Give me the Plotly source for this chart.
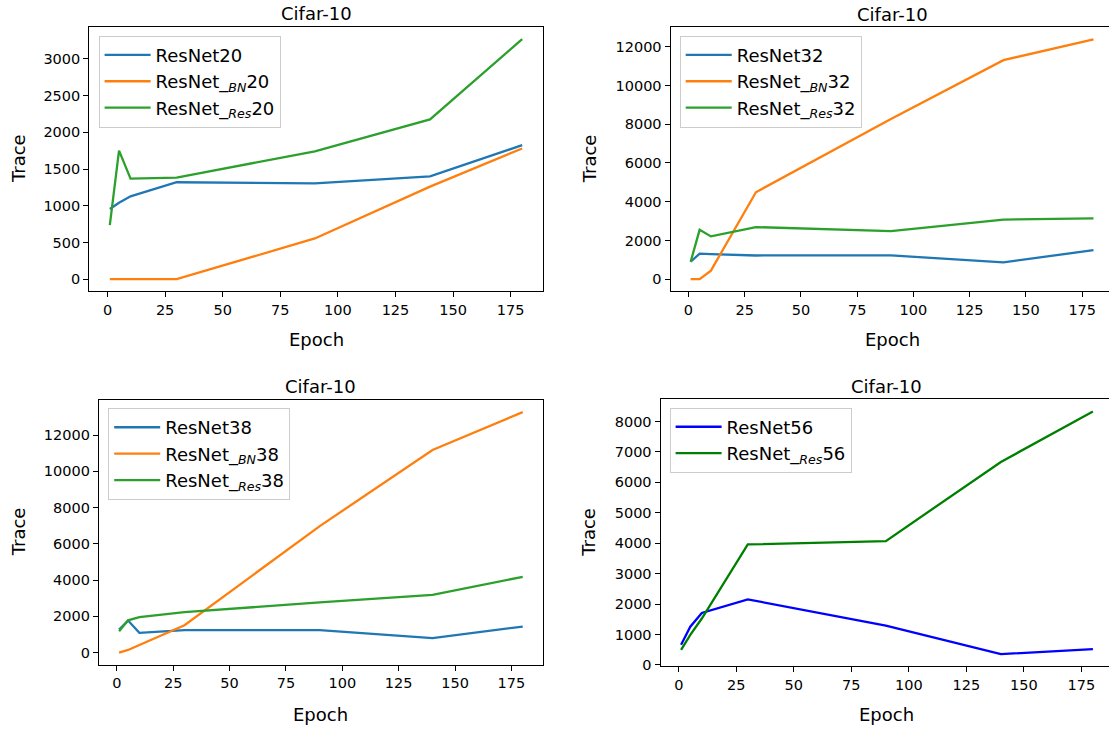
import plotly.graph_objects as go

W, H = 1109, 732

epochs = [1, 5, 10, 30, 90, 140, 180]

# Panel 1 (ResNet20)
resnet20 = [955, 1040, 1128, 1320, 1305, 1400, 1825]
resnet20_bn = [0, 0, 0, 0, 555, 1260, 1780]
resnet20_res = [735, 1750, 1370, 1382, 1742, 2175, 3270]

# Panel 2 (ResNet32)
resnet32 = [900, 1320, 1295, 1225, 1235, 870, 1500]
resnet32_bn = [0, 0, 440, 4490, 8270, 11310, 12380]
resnet32_res = [900, 2550, 2210, 2690, 2485, 3080, 3145]

# Panel 3 (ResNet38)
resnet38 = [1270, 1765, 1090, 1235, 1235, 800, 1435]
resnet38_bn = [0, 145, 420, 1510, 6980, 11180, 13270]
resnet38_res = [1180, 1780, 1960, 2235, 2765, 3180, 4180]

# Panel 4 (ResNet56)
resnet56 = [660, 1255, 1710, 2155, 1290, 355, 520]
resnet56_res = [495, 985, 1525, 3960, 4070, 6670, 8325]

x_ticks = [0, 25, 50, 75, 100, 125, 150, 175]
y_ticks_1 = [0, 500, 1000, 1500, 2000, 2500, 3000]
y_ticks_2 = [0, 2000, 4000, 6000, 8000, 10000, 12000]
y_ticks_3 = [0, 2000, 4000, 6000, 8000, 10000, 12000]
y_ticks_4 = [0, 1000, 2000, 3000, 4000, 5000, 6000, 7000, 8000]

title_text = "Cifar-10"
x_title = "Epoch"
y_title = "Trace"

BLUE, ORANGE, GREEN = "#1f77b4", "#ff7f0e", "#2ca02c"
PURE_BLUE, DARK_GREEN = "#0000ff", "#008000"

FONT = "DejaVu Sans"


def lab(base, sub, num):
    if sub:
        return f"{base}_<sub><i>{sub}</i></sub>{num}"
    return f"{base}{num}"


panels = [
    dict(series=[(resnet20, lab("ResNet", None, 20), BLUE),
                 (resnet20_bn, lab("ResNet", "BN", 20), ORANGE),
                 (resnet20_res, lab("ResNet", "Res", 20), GREEN)],
         yt=y_ticks_1, box=(89.2, 542.8, 27.3, 294.0), xmax=None,
         leg=(98.6, 36.0), ytitle_x=18, xtitle_y=343),
    dict(series=[(resnet32, lab("ResNet", None, 32), BLUE),
                 (resnet32_bn, lab("ResNet", "BN", 32), ORANGE),
                 (resnet32_res, lab("ResNet", "Res", 32), GREEN)],
         yt=y_ticks_2, box=(670.5, 1109, 27.7, 294.0), xmax=186.9,
         leg=(679.7, 36.0), ytitle_x=589, xtitle_y=343),
    dict(series=[(resnet38, lab("ResNet", None, 38), BLUE),
                 (resnet38_bn, lab("ResNet", "BN", 38), ORANGE),
                 (resnet38_res, lab("ResNet", "Res", 38), GREEN)],
         yt=y_ticks_3, box=(98.9, 542.9, 404.0, 671.0), xmax=None,
         leg=(108.2, 412.0), ytitle_x=18, xtitle_y=721),
    dict(series=[(resnet56, lab("ResNet", None, 56), PURE_BLUE),
                 (resnet56_res, lab("ResNet", "Res", 56), DARK_GREEN)],
         yt=y_ticks_4, box=(660.5, 1109, 403.3, 672.7), xmax=187.0,
         leg=(669.6, 411.5), ytitle_x=589, xtitle_y=721),
]

fig = go.Figure()
layout = dict(
    width=W, height=H,
    margin=dict(l=0, r=0, t=0, b=0),
    paper_bgcolor="white", plot_bgcolor="white",
    font=dict(family=FONT, size=14, color="black"),
    annotations=[],
)

xmin_all = min(epochs)
xmax_all = max(epochs)
xpad = 0.05 * (xmax_all - xmin_all)

for i, p in enumerate(panels, start=1):
    suffix = "" if i == 1 else str(i)
    legname = "legend" if i == 1 else f"legend{i}"
    for vals, name, color in p["series"]:
        fig.add_trace(go.Scatter(
            x=epochs, y=vals, mode="lines", name=name,
            line=dict(color=color, width=2.3),
            xaxis=f"x{suffix}", yaxis=f"y{suffix}",
            legend=legname,
        ))
    allv = [v for s in p["series"] for v in s[0]]
    lo, hi = min(allv), max(allv)
    pad = 0.05 * (hi - lo)
    x0, x1, ytop, ybot = p["box"]
    dom_x = [x0 / W, x1 / W]
    dom_y = [1 - ybot / H, 1 - ytop / H]
    xr_min = xmin_all - xpad
    xr_max = p["xmax"] if p["xmax"] is not None else xmax_all + xpad
    clipped = p["xmax"] is not None
    layout[f"xaxis{suffix}"] = dict(
        domain=dom_x, anchor=f"y{suffix}",
        range=[xr_min, xr_max],
        tickvals=x_ticks, tickformat="d", ticks="outside", ticklen=5, tickwidth=1,
        tickcolor="black", showline=True, linecolor="black", linewidth=1,
        mirror=True, showgrid=False, zeroline=False,
        tickfont=dict(size=14.5, family=FONT, color="black"),
    )
    layout[f"yaxis{suffix}"] = dict(
        domain=dom_y, anchor=f"x{suffix}",
        range=[lo - pad, hi + pad],
        tickvals=p["yt"], tickformat="d", ticks="outside", ticklen=5, tickwidth=1,
        tickcolor="black", showline=True, linecolor="black", linewidth=1,
        mirror=(not clipped), showgrid=False, zeroline=False,
        tickfont=dict(size=14.5, family=FONT, color="black"),
    )
    lx, ly = p["leg"]
    layout[legname] = dict(
        x=lx / W, y=1 - ly / H, xanchor="left", yanchor="top",
        xref="paper", yref="paper",
        bgcolor="rgba(255,255,255,0.8)", bordercolor="#cccccc", borderwidth=1,
        font=dict(size=18, family=FONT, color="black"),
        tracegroupgap=0, itemwidth=46,
    )
    # title centred over the full (unclipped) axes
    full_right = x0 + (xmax_all + xpad - xr_min) * (x1 - x0) / (xr_max - xr_min)
    cx = (x0 + full_right) / 2
    layout["annotations"].append(dict(
        text=title_text, x=cx / W, y=1 - (ytop - 13.5) / H, xref="paper", yref="paper",
        xanchor="center", yanchor="middle", showarrow=False,
        font=dict(size=18, family=FONT, color="black"),
    ))
    layout["annotations"].append(dict(
        text=x_title, x=cx / W, y=1 - p["xtitle_y"] / H, xref="paper", yref="paper",
        xanchor="center", yanchor="middle", showarrow=False,
        font=dict(size=18, family=FONT, color="black"),
    ))
    layout["annotations"].append(dict(
        text=y_title, x=p["ytitle_x"] / W, y=1 - ((ytop + ybot) / 2) / H,
        xref="paper", yref="paper", textangle=-90,
        xanchor="center", yanchor="middle", showarrow=False,
        font=dict(size=18, family=FONT, color="black"),
    ))

fig.update_layout(**layout)
fig.write_html("out.html", config={"displayModeBar": False},
               post_script="document.body.style.margin='0';")
